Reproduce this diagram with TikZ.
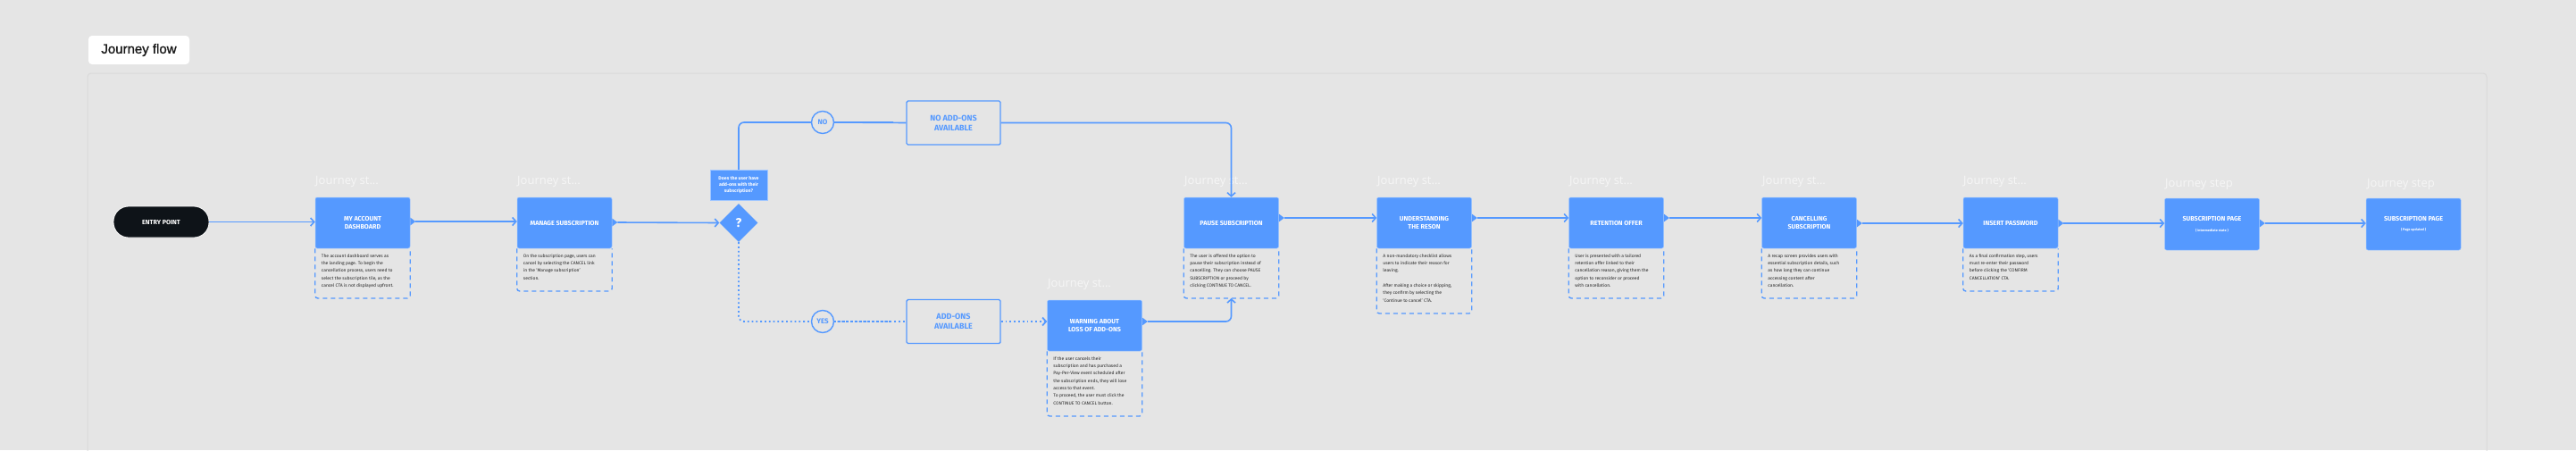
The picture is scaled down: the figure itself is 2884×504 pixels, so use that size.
\documentclass[tikz,border=0pt]{standalone}
\usepackage{fontspec}
\setmainfont{Fira Sans}
\newfontfamily\jfont{Open Sans}
\newfontfamily\hfont[FakeBold=1.2]{Liberation Sans}
\usetikzlibrary{arrows.meta,shapes.geometric,calc}
\definecolor{bg}{HTML}{E5E5E5}
\definecolor{bluec}{HTML}{5599FF}
\definecolor{inkc}{HTML}{0E1318}
\definecolor{panelc}{HTML}{DADADA}
\newcommand\titlef{\fontsize{7.2}{8.6}\selectfont\bfseries}
\newcommand\descf{\fontsize{5}{8.3}\selectfont}
\newcommand\optf{\fontsize{9}{10.8}\selectfont\bfseries}
\newcommand\badgef{\fontsize{8}{8}\selectfont\bfseries}
\newcommand\qf{\fontsize{5.2}{6.8}\selectfont\bfseries}
\newcommand\subf{\fontsize{3.8}{4}\selectfont}
\newcommand\jst{Journey st...}
\newcommand\jstep{Journey step}
\newcommand\notch[3]{\coordinate (#1) at (#2.east |- 0,#3);
  \fill[bluec] ([yshift=4.5pt]#1) -- ([xshift=6pt]#1) -- ([yshift=-4.5pt]#1) -- cycle;
  \coordinate (#1) at ([xshift=6pt]#1);}
\newcommand\descbox[3]{%
  \draw[descline] (#1.south west) -- (#1.south west |- 0,#2) -- (#1.south east |- 0,#2) -- (#1.south east);
  \node[desctext] (#1d) at ([xshift=7pt,yshift=-6pt]#1.south west) {#3};}
\begin{document}
\begin{tikzpicture}[x=1pt,y=-1pt,
  stepbox/.style={fill=bluec, draw=white!45!bluec, line width=0.5pt, rounded corners=2pt,
    minimum width=106pt, minimum height=57pt, inner sep=0pt, text=white, align=center, font=\titlef},
  optbox/.style={draw=bluec, line width=1.4pt, fill=bg, rounded corners=1.5pt,
    minimum width=105pt, minimum height=49pt, text=bluec, align=center, font=\optf},
  badge/.style={circle, draw=bluec, line width=1.4pt, fill=bg, minimum size=25pt, inner sep=0pt,
    text=bluec, font=\badgef},
  flow/.style={draw=bluec, line width=1.6pt, -{Straight Barb[length=4pt,width=9pt]}},
  conn/.style={draw=bluec, line width=1.6pt},
  dotline/.style={draw=bluec, line width=1.8pt, dash pattern=on 1.8pt off 3pt},
  descline/.style={draw=bluec, line width=1.4pt, dash pattern=on 5pt off 4pt, rounded corners=3pt},
  desctext/.style={anchor=north west, align=left, font=\descf, text=black!85, inner sep=0pt},
  jlabel/.style={anchor=west, font=\jfont\fontsize{13}{13}\selectfont, text=white, text opacity=0.65, inner sep=0pt}]
\useasboundingbox (0,0) rectangle (2884,504);
\clip (0,0) rectangle (2884,504);
\fill[bg] (0,0) rectangle (2884,504);
\draw[panelc, line width=1pt, rounded corners=4pt] (98,82) rectangle (2784,560);

\node[fill=white, rounded corners=4pt, minimum width=113pt, minimum height=32pt,
  font=\hfont\fontsize{15}{15}\selectfont, text=black!90] (title) at (155.5,56) {Journey flow};

% journey labels
\foreach \x/\y/\t in {353/203/\jst, 579/203/\jst, 1326/203/\jst,
  1542/203/\jst, 1757/203/\jst, 1973/203/\jst, 2198/203/\jst,
  2424/206/\jstep, 2650/206/\jstep, 1173/318/\jst}
  \node[jlabel] at (\x,\y) {\t};

% nodes
\node[fill=inkc, draw=white, line width=0.8pt, rounded corners=17pt, minimum width=107pt,
  minimum height=35pt, text=white, font=\titlef] (entry) at (180.5,248.5) {ENTRY POINT};
\node[stepbox] (acc) at (406,249.5) {MY ACCOUNT\\DASHBOARD};
\node[stepbox] (man) at (632,249.5) {MANAGE SUBSCRIPTION};
\node[stepbox] (pause) at (1378.5,249.5) {PAUSE SUBSCRIPTION};
\node[stepbox] (und) at (1594.5,249.5) {UNDERSTANDING\\THE RESON};
\node[stepbox] (ret) at (1809.5,249.5) {RETENTION OFFER};
\node[stepbox] (can) at (2025.5,249.5) {CANCELLING\\SUBSCRIPTION};
\node[stepbox] (ins) at (2251,249.5) {INSERT PASSWORD};
\node[stepbox, minimum height=58pt] (sub1) at (2476.5,251) {SUBSCRIPTION PAGE\\[3pt]{\subf( Intermediate state )}};
\node[stepbox, minimum height=58pt] (sub2) at (2702,251) {SUBSCRIPTION PAGE\\[3pt]{\subf( Page updated )}};
\node[stepbox] (warn) at (1225.5,364.5) {WARNING ABOUT\\LOSS OF ADD-ONS};

\node[fill=bluec, draw=white!45!bluec, line width=0.5pt, minimum width=64pt, minimum height=34pt,
  inner sep=0pt, text=white, align=center, font=\qf] (q) at (827,207) {Does the user have\\add-ons with their\\subscription?};
\node[diamond, fill=bluec, minimum width=43pt, minimum height=43pt, inner sep=0pt, text=white,
  font=\fontsize{14}{14}\selectfont\bfseries] (dia) at (827,249.5) {?};

\node[optbox] (noadd) at (1067.5,137.5) {NO ADD-ONS\\AVAILABLE};
\node[optbox] (adds) at (1067.5,360) {ADD-ONS\\AVAILABLE};

% connectors
\draw[conn, rounded corners=6pt] (q.north) |- (1000,137) coordinate (nojoin);
\node[badge] (no) at (921,137) {NO};
\draw[conn] (no.east) -- (noadd.west);
\draw[flow, rounded corners=6pt] (noadd.east) -| (pause.north);

\draw[dotline, rounded corners=6pt] (dia.south) |- (1000,360) coordinate (yesjoin);
\node[badge] (yes) at (921,360) {YES};
\draw[dotline] (yes.east) -- (adds.west);
\draw[dotline, -{Straight Barb[length=4pt,width=9pt]}] (adds.east) -- (warn.west |- adds.east);

\draw[flow] (entry.east) -- (acc.west |- entry.east);
\notch{accN}{acc}{248}
\draw[flow] (accN) -- (man.west |- accN);
\notch{manN}{man}{249}
\draw[flow] (manN) -- (dia.west);
\notch{pauseN}{pause}{244}
\draw[flow] (pauseN) -- (und.west |- pauseN);
\notch{undN}{und}{244}
\draw[flow] (undN) -- (ret.west |- undN);
\notch{retN}{ret}{244}
\draw[flow] (retN) -- (can.west |- retN);
\notch{canN}{can}{250}
\draw[flow] (canN) -- (ins.west |- canN);
\notch{insN}{ins}{250}
\draw[flow] (insN) -- (sub1.west |- insN);
\notch{sub1N}{sub1}{250}
\draw[flow] (sub1N) -- (sub2.west |- sub1N);
\notch{warnN}{warn}{360}
\coordinate (pauseD) at (pause.south |- 0,334);
\draw[flow, rounded corners=6pt] (warnN) -| (pauseD);

% descriptions
\descbox{acc}{334}{The account dashboard serves as\\the landing page. To begin the\\cancellation process, users need to\\select the subscription tile, as the\\cancel CTA is not displayed upfront.}
\descbox{man}{326}{On the subscription page, users can\\cancel by selecting the CANCEL link\\in the ‘Manage subscription’\\section.}
\descbox{pause}{334}{The user is offered the option to\\pause their subscription instead of\\cancelling. They can choose PAUSE\\SUBSCRIPTION or proceed by\\clicking CONTINUE TO CANCEL.}
\descbox{und}{351}{A non-mandatory checklist allows\\users to indicate their reason for\\leaving.\\[8.3pt]After making a choice or skipping,\\they confirm by selecting the\\‘Continue to cancel’ CTA.}
\descbox{ret}{334}{User is presented with a tailored\\retention offer linked to their\\cancellation reason, giving them the\\option to reconsider or proceed\\with cancellation.}
\descbox{can}{334}{A recap screen provides users with\\essential subscription details, such\\as how long they can continue\\accessing content after\\cancellation.}
\descbox{ins}{326}{As a final confirmation step, users\\must re-enter their password\\before clicking the ‘CONFIRM\\CANCELLATION’ CTA.}
\descbox{warn}{466}{If the user cancels their\\subscription and has purchased a\\Pay-Per-View event scheduled after\\the subscription ends, they will lose\\access to that event.\\To proceed, the user must click the\\CONTINUE TO CANCEL button.}
\end{tikzpicture}
\end{document}
